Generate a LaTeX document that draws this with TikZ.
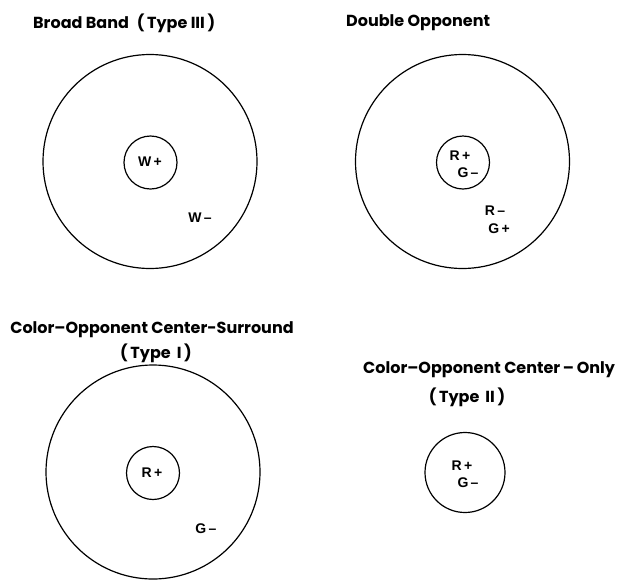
\documentclass[tikz,border=0pt]{standalone}
\usepackage{fontspec}
\setmainfont{Poppins}
\newfontfamily\labfont{Liberation Sans}[UprightFont={* Bold}]
\begin{document}
\begin{tikzpicture}[x=1pt,y=-1pt,
  ring/.style={circle,draw,line width=1.2pt,inner sep=0pt,minimum size=#1},
  ttl/.style={font=\fontsize{16}{18}\selectfont\bfseries,inner sep=0pt},
  lab/.style={font=\labfont\fontsize{14}{15}\selectfont,inner sep=0pt,align=left}]
\useasboundingbox (0,0) rectangle (624,582);
% Broad band
\node[ttl,anchor=west] (t1) at (33,23) {Broad Band \;(\,Type III\,)};
\node[ring=214pt] (o1) at (150,161.5) {};
\node[ring=53pt] (i1) at (150.5,162.5) {};
\node[lab] (l1a) at (150,162) {W\,+};
\node[lab] (l1b) at (200,218) {W\,–};
% Double opponent
\node[ttl,anchor=west] (t2) at (346,23) {Double Opponent};
\node[ring=214pt] (o2) at (462.5,161.5) {};
\node[ring=53pt] (i2) at (463,162.5) {};
\node[lab] (l2a) at (460,156) {R\,+};
\node[lab] (l2b) at (468,173) {G\,–};
\node[lab] (l2c) at (495,211) {R\,–};
\node[lab] (l2d) at (499,229) {G\,+};
% Center-surround
\node[ttl] (t3) at (152,330) {Color–Opponent Center-Surround};
\node[ttl] (t3b) at (156,353) {(\,Type \,I\,)};
\node[ring=214pt] (o3) at (153,472) {};
\node[ring=53pt] (i3) at (153,473) {};
\node[lab] (l3a) at (152,473) {R\,+};
\node[lab] (l3b) at (206,529) {G\,–};
% Center-only
\node[ttl,anchor=west] (t4) at (363,370) {Color–Opponent Center\,–\,Only};
\node[ttl] (t4b) at (467,397) {(\,Type \,II\,)};
\node[ring=80pt] (o4) at (465,472.5) {};
\node[lab] (l4a) at (462,466) {R\,+};
\node[lab] (l4b) at (468,483) {G\,–};
\end{tikzpicture}
\end{document}
